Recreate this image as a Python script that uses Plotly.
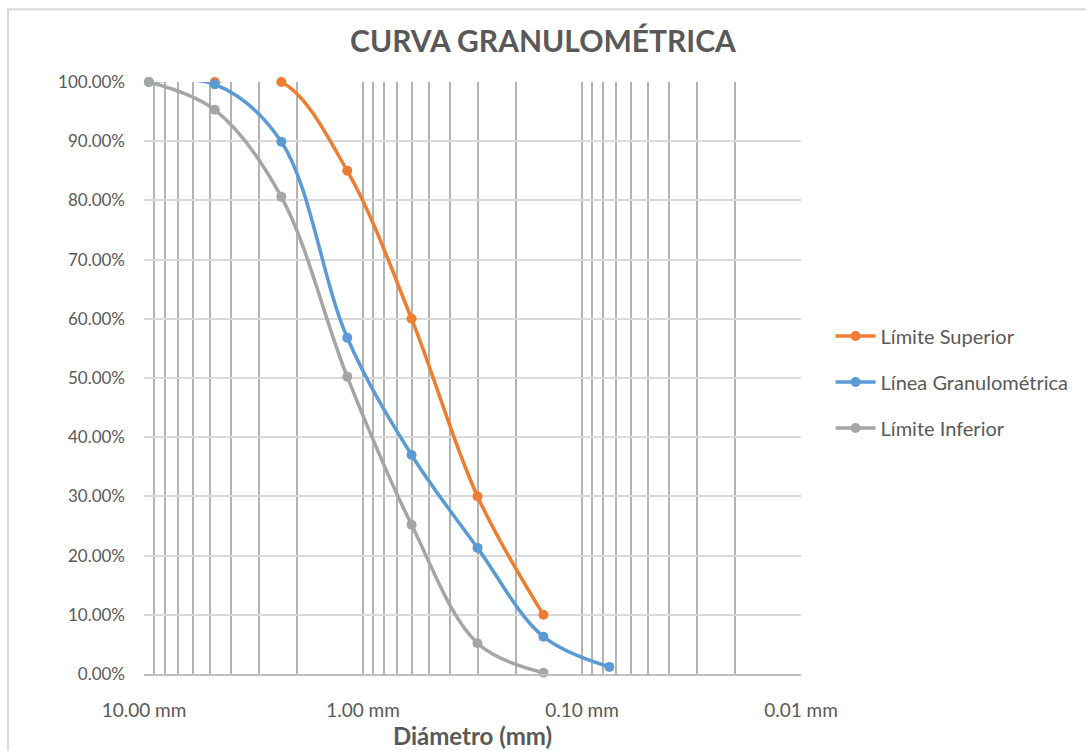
import plotly.graph_objects as go

# Sieve openings (mm)
diam_sup = [4.75, 2.36, 1.18, 0.60, 0.30, 0.15]
pct_sup = [100.0, 100.0, 85.0, 60.0, 30.0, 10.0]

diam_gran = [9.50, 4.75, 2.36, 1.18, 0.60, 0.30, 0.15, 0.075]
pct_gran = [100.0, 99.6, 89.9, 56.8, 37.0, 21.3, 6.3, 1.2]

diam_inf = [9.50, 4.75, 2.36, 1.18, 0.60, 0.30, 0.15]
pct_inf = [100.0, 95.3, 80.6, 50.2, 25.2, 5.2, 0.2]

x_tickvals = [10, 1, 0.1, 0.01]
x_ticktext = ["10.00 mm", "1.00 mm", "0.10 mm", "0.01 mm"]

FONT = "Lato"
TXT = "#595959"

fig = go.Figure()

series = [
    ("Límite Superior", diam_sup, pct_sup, "#ED7D31"),
    ("Línea Granulométrica", diam_gran, pct_gran, "#5B9BD5"),
    ("Límite Inferior", diam_inf, pct_inf, "#A5A5A5"),
]
for name, xs, ys, col in series:
    fig.add_trace(go.Scatter(
        x=xs, y=[v / 100 for v in ys], name=name, legendgroup=name,
        mode="lines+markers",
        line=dict(color=col, width=3.5, shape="spline", smoothing=1.0),
        marker=dict(color=col, size=10, symbol="circle"),
        cliponaxis=False,
    ))

minor_vals = [m * 10 ** e for e in (-2, -1, 0) for m in range(2, 10)]

fig.update_layout(
    width=1086, height=751,
    margin=dict(l=144, r=285, t=82, b=77, autoexpand=False),
    paper_bgcolor="white", plot_bgcolor="white",
    font=dict(family=FONT, color=TXT, size=16),
    title=dict(text="<b>CURVA GRANULOMÉTRICA</b>", x=0.5, xref="container",
               xanchor="center", y=1 - 41 / 751, yanchor="middle",
               font=dict(family=FONT, size=30, color=TXT)),
    showlegend=True,
    legend=dict(x=1.045, xanchor="left", y=0.604, yanchor="top",
                font=dict(family=FONT, size=20, color=TXT),
                traceorder="grouped", tracegroupgap=17,
                itemwidth=40, bgcolor="rgba(0,0,0,0)"),
    xaxis=dict(
        type="log", range=[1, -2], automargin=False,
        tickmode="array", tickvals=x_tickvals, ticktext=x_ticktext,
        showgrid=True, gridcolor="#B3B3B3", gridwidth=1.5,
        minor=dict(tickmode="array", tickvals=minor_vals, showgrid=True,
                   gridcolor="#B3B3B3", gridwidth=1.5, ticks=""),
        showline=True, linecolor="#BFBFBF", linewidth=1.5,
        ticks="", ticklabelstandoff=18,
        tickfont=dict(family=FONT, size=19, color=TXT),
        title=dict(text="<b>Diámetro (mm)</b>", standoff=2,
                   font=dict(family=FONT, size=24, color=TXT)),
        zeroline=False,
    ),
    yaxis=dict(
        range=[0, 1], tickmode="linear", tick0=0, dtick=0.1, automargin=False,
        tickformat=".2%",
        showgrid=True, gridcolor="#D9D9D9", gridwidth=1.5,
        showline=False, zeroline=False, ticks="", ticklabelstandoff=18,
        tickfont=dict(family=FONT, size=17, color=TXT),
    ),
    shapes=[dict(type="rect", xref="paper", yref="paper",
                 x0=-0.207, x1=1.6, y0=-0.3, y1=1.123,
                 line=dict(color="#D9D9D9", width=2), fillcolor="rgba(0,0,0,0)",
                 layer="below")],
)

fig.write_html("out.html")
